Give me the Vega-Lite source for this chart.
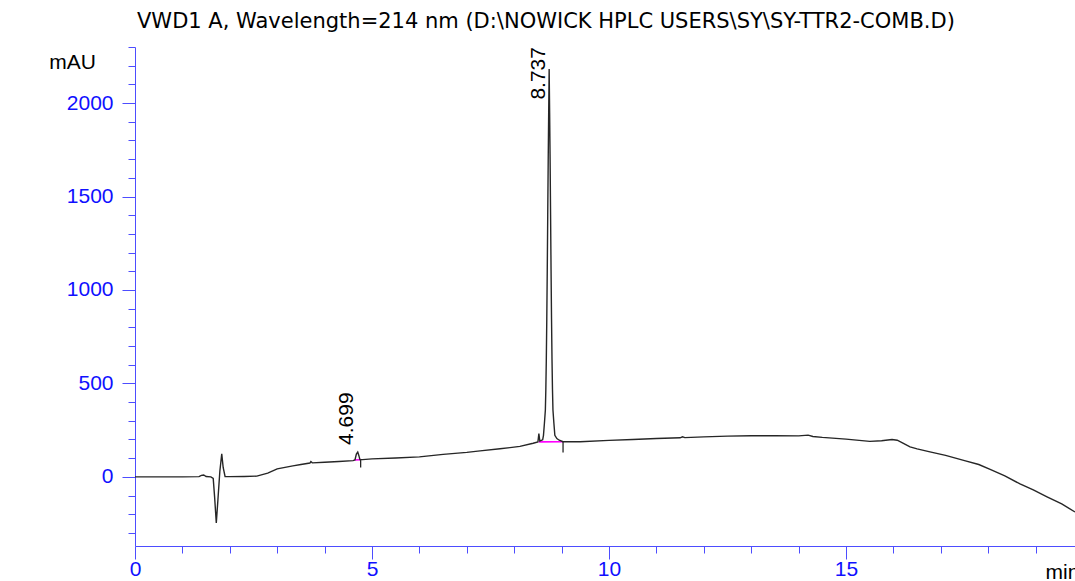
{
  "$schema": "https://vega.github.io/schema/vega-lite/v6.json",
  "width": 940,
  "height": 499,
  "autosize": {"type": "none"},
  "padding": {"left": 135, "top": 47, "right": 0, "bottom": 35},
  "background": "white",
  "config": {
    "view": {"stroke": null},
    "font": "Liberation Sans"
  },
  "title": {
    "text": "VWD1 A, Wavelength=214 nm (D:\\NOWICK HPLC USERS\\SY\\SY-TTR2-COMB.D)",
    "font": "DejaVu Sans",
    "fontSize": 21,
    "fontWeight": "normal",
    "color": "#000000",
    "anchor": "start",
    "frame": "group",
    "dx": 2,
    "baseline": "alphabetic",
    "offset": -13
  },
  "datasets": {
    "signal": [
      {"t": 0.0, "v": 0}, {"t": 0.5, "v": 0}, {"t": 1.0, "v": 0}, {"t": 1.35, "v": 1},
      {"t": 1.4, "v": 8}, {"t": 1.45, "v": 10}, {"t": 1.5, "v": 2}, {"t": 1.6, "v": 0},
      {"t": 1.65, "v": -8}, {"t": 1.68, "v": -110}, {"t": 1.715, "v": -247}, {"t": 1.75, "v": -120},
      {"t": 1.79, "v": 30}, {"t": 1.83, "v": 123}, {"t": 1.86, "v": 50}, {"t": 1.9, "v": 2},
      {"t": 2.0, "v": 1}, {"t": 2.3, "v": 2}, {"t": 2.57, "v": 4}, {"t": 2.8, "v": 20},
      {"t": 3.0, "v": 43}, {"t": 3.33, "v": 59}, {"t": 3.5, "v": 66}, {"t": 3.69, "v": 74},
      {"t": 3.71, "v": 82}, {"t": 3.74, "v": 75}, {"t": 4.0, "v": 78}, {"t": 4.3, "v": 82},
      {"t": 4.6, "v": 87}, {"t": 4.64, "v": 90}, {"t": 4.67, "v": 122}, {"t": 4.699, "v": 133},
      {"t": 4.72, "v": 116}, {"t": 4.745, "v": 92}, {"t": 4.8, "v": 92}, {"t": 5.0, "v": 96},
      {"t": 5.5, "v": 101}, {"t": 6.0, "v": 107}, {"t": 6.5, "v": 120}, {"t": 7.0, "v": 131},
      {"t": 7.28, "v": 139}, {"t": 7.7, "v": 150}, {"t": 8.12, "v": 163}, {"t": 8.4, "v": 180},
      {"t": 8.5, "v": 187}, {"t": 8.52, "v": 232}, {"t": 8.54, "v": 192}, {"t": 8.6, "v": 198},
      {"t": 8.617, "v": 222}, {"t": 8.637, "v": 287}, {"t": 8.657, "v": 358}, {"t": 8.667, "v": 468},
      {"t": 8.677, "v": 628}, {"t": 8.687, "v": 844}, {"t": 8.697, "v": 1108}, {"t": 8.707, "v": 1403},
      {"t": 8.717, "v": 1696}, {"t": 8.727, "v": 1948}, {"t": 8.737, "v": 2182}, {"t": 8.747, "v": 1948},
      {"t": 8.757, "v": 1696}, {"t": 8.767, "v": 1403}, {"t": 8.777, "v": 1108}, {"t": 8.787, "v": 844},
      {"t": 8.797, "v": 628}, {"t": 8.807, "v": 468}, {"t": 8.817, "v": 358}, {"t": 8.837, "v": 287},
      {"t": 8.857, "v": 222}, {"t": 8.9, "v": 205}, {"t": 8.95, "v": 196}, {"t": 9.03, "v": 188},
      {"t": 9.39, "v": 188}, {"t": 10.0, "v": 195}, {"t": 10.5, "v": 200}, {"t": 11.0, "v": 205},
      {"t": 11.5, "v": 209}, {"t": 11.55, "v": 214}, {"t": 11.6, "v": 210}, {"t": 12.0, "v": 214},
      {"t": 12.5, "v": 218}, {"t": 13.0, "v": 220}, {"t": 13.5, "v": 220}, {"t": 14.0, "v": 219},
      {"t": 14.2, "v": 223}, {"t": 14.3, "v": 216}, {"t": 14.5, "v": 211}, {"t": 15.0, "v": 202},
      {"t": 15.5, "v": 190}, {"t": 15.75, "v": 193}, {"t": 15.97, "v": 200}, {"t": 16.08, "v": 196},
      {"t": 16.2, "v": 180}, {"t": 16.35, "v": 160}, {"t": 16.5, "v": 150}, {"t": 16.77, "v": 134},
      {"t": 17.1, "v": 115}, {"t": 17.5, "v": 87}, {"t": 17.8, "v": 66}, {"t": 18.04, "v": 40},
      {"t": 18.35, "v": 5}, {"t": 18.67, "v": -38}, {"t": 18.95, "v": -70}, {"t": 19.24, "v": -107},
      {"t": 19.55, "v": -145}, {"t": 19.83, "v": -188}
    ],
    "baselines": [
      {"seg": "a", "t": 4.63, "v": 90}, {"seg": "a", "t": 4.76, "v": 92},
      {"seg": "b", "t": 8.52, "v": 187}, {"seg": "b", "t": 9.03, "v": 188}
    ],
    "markers": [
      {"t": 4.76, "v1": 92, "v2": 50},
      {"t": 9.03, "v1": 188, "v2": 130}
    ],
    "peaks": [
      {"rt": 4.699, "height": 133, "label": "4.699"},
      {"rt": 8.737, "height": 2182, "label": "8.737"}
    ]
  },
  "layer": [
    {
      "data": {"name": "baselines"},
      "mark": {"type": "line", "color": "#ff00ff", "strokeWidth": 1.6},
      "encoding": {
        "x": {"field": "t", "type": "quantitative"},
        "y": {"field": "v", "type": "quantitative"},
        "detail": {"field": "seg"}
      }
    },
    {
      "data": {"name": "signal"},
      "mark": {"type": "line", "color": "#262626", "strokeWidth": 1.4},
      "encoding": {
        "x": {
          "field": "t", "type": "quantitative",
          "scale": {"domain": [0, 19.83], "nice": false, "zero": false},
          "axis": {
            "values": [0,1,2,3,4,5,6,7,8,9,10,11,12,13,14,15,16,17,18,19],
            "tickCount": 100,
            "format": "d",
            "labelExpr": "datum.value % 5 === 0 ? datum.label : ''",
            "tickSize": {"condition": {"test": "datum.value % 5 === 0", "value": 13}, "value": 7},
            "grid": false,
            "domainColor": "#4d4dff",
            "tickColor": "#4d4dff",
            "labelColor": "#1010ff",
            "labelFont": "Liberation Sans",
            "labelFontSize": 21,
            "labelPadding": -1,
            "labelFlush": false,
            "labelOverlap": false,
            "title": "min",
            "titleFont": "Liberation Sans",
            "titleFontSize": 21,
            "titleFontWeight": "normal",
            "titleColor": "#000000",
            "titleAlign": "left",
            "titleBaseline": "alphabetic",
            "titleX": 910,
            "titleY": 32
          }
        },
        "y": {
          "field": "v", "type": "quantitative",
          "scale": {"domain": [-370, 2300], "nice": false, "zero": false},
          "axis": {
            "values": [-300,-200,-100,0,100,200,300,400,500,600,700,800,900,1000,1100,1200,1300,1400,1500,1600,1700,1800,1900,2000,2100,2200,2300],
            "tickCount": 100,
            "format": "d",
            "labelExpr": "datum.value % 500 === 0 ? datum.label : ''",
            "tickSize": {"condition": {"test": "datum.value % 500 === 0", "value": 13}, "value": 7},
            "grid": false,
            "domainColor": "#4d4dff",
            "tickColor": "#4d4dff",
            "labelColor": "#1010ff",
            "labelFont": "Liberation Sans",
            "labelFontSize": 21,
            "labelPadding": 9,
            "labelFlush": false,
            "labelOverlap": false,
            "title": "mAU",
            "titleFont": "Liberation Sans",
            "titleFontSize": 21,
            "titleFontWeight": "normal",
            "titleColor": "#000000",
            "titleAngle": 0,
            "titleAlign": "center",
            "titleBaseline": "alphabetic",
            "titleX": -63,
            "titleY": 21
          }
        }
      }
    },
    {
      "data": {"name": "markers"},
      "mark": {"type": "rule", "color": "#262626", "strokeWidth": 1.3},
      "encoding": {
        "x": {"field": "t", "type": "quantitative"},
        "y": {"field": "v1", "type": "quantitative"},
        "y2": {"field": "v2"}
      }
    },
    {
      "data": {"name": "peaks"},
      "transform": [{"filter": "datum.rt < 6"}],
      "mark": {"type": "text", "angle": 270, "align": "left", "baseline": "alphabetic", "dx": 7, "dy": -5, "font": "Liberation Sans", "fontSize": 21, "color": "#000000"},
      "encoding": {
        "x": {"field": "rt", "type": "quantitative"},
        "y": {"field": "height", "type": "quantitative"},
        "text": {"field": "label"}
      }
    },
    {
      "data": {"name": "peaks"},
      "transform": [{"filter": "datum.rt > 6"}],
      "mark": {"type": "text", "angle": 270, "align": "right", "baseline": "alphabetic", "dx": 22, "dy": -4, "font": "Liberation Sans", "fontSize": 21, "color": "#000000"},
      "encoding": {
        "x": {"field": "rt", "type": "quantitative"},
        "y": {"field": "height", "type": "quantitative"},
        "text": {"field": "label"}
      }
    }
  ]
}
